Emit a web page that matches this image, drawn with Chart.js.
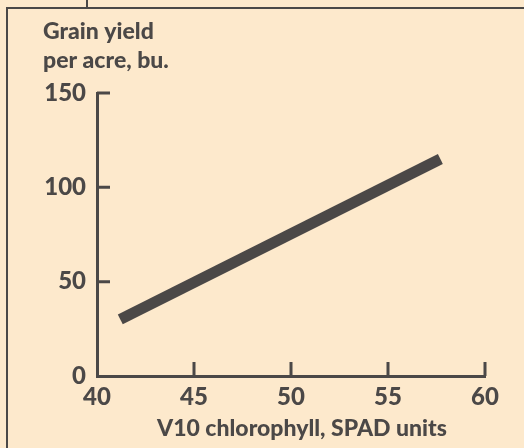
<!DOCTYPE html>
<html>
<head>
<meta charset="utf-8">
<script src="https://cdn.jsdelivr.net/npm/chart.js@4"></script>
<style>
  html, body { margin: 0; padding: 0; background: #fde9cc; }
  #wrap { width: 524px; height: 448px; position: relative; }
</style>
</head>
<body>
<div id="wrap"><canvas id="chart"></canvas></div>
<script>
// Data
const chlorophyll = [41.2, 57.7];     // V10 chlorophyll, SPAD units
const grainYield = [30, 115];         // bu. per acre
const xTicks = [40, 45, 50, 55, 60];
const yTicks = [0, 50, 100, 150];
const yTitle = ['Grain yield', 'per acre, bu.'];
const xTitle = 'V10 chlorophyll, SPAD units';

const ink = '#4b4847';
const paper = '#fde9cc';
const font = 'Lato, "DejaVu Sans", sans-serif';

// paper, frame, inward tick marks and the axis titles
const decorations = {
    id: 'decorations',
    beforeDraw(chart) {
        const ctx = chart.ctx;
        ctx.save();
        ctx.fillStyle = paper;
        ctx.fillRect(0, 0, chart.width, chart.height);
        ctx.strokeStyle = ink;
        ctx.lineWidth = 2;
        ctx.beginPath();
        ctx.moveTo(7, chart.height);
        ctx.lineTo(7, 8);
        ctx.lineTo(chart.width, 8);
        ctx.moveTo(87, 0);
        ctx.lineTo(87, 8);
        ctx.stroke();
        ctx.restore();
    },
    afterDraw(chart) {
        const ctx = chart.ctx;
        const area = chart.chartArea;
        const xs = chart.scales.x;
        const ys = chart.scales.y;
        ctx.save();
        ctx.strokeStyle = ink;
        ctx.lineWidth = 3;
        ctx.beginPath();
        xTicks.slice(1).forEach(v => {
            const px = xs.getPixelForValue(v);
            ctx.moveTo(px, area.bottom);
            ctx.lineTo(px, area.bottom - 14);
        });
        yTicks.slice(1).forEach(v => {
            const py = ys.getPixelForValue(v);
            ctx.moveTo(area.left, py);
            ctx.lineTo(area.left + 13, py);
        });
        ctx.stroke();

        ctx.fillStyle = ink;
        ctx.font = '900 23px ' + font;
        ctx.textAlign = 'left';
        ctx.textBaseline = 'alphabetic';
        ctx.fillText(yTitle[0], 43, 39);
        ctx.fillText(yTitle[1], 43, 68);
        ctx.textAlign = 'center';
        ctx.fillText(xTitle, 302, 436);
        ctx.restore();
    }
};

new Chart(document.getElementById('chart'), {
    type: 'scatter',
    data: {
        datasets: [{
            data: chlorophyll.map((x, i) => ({ x: x, y: grainYield[i] })),
            showLine: true,
            borderColor: ink,
            borderWidth: 11,
            borderCapStyle: 'butt',
            pointRadius: 0,
            fill: false
        }]
    },
    options: {
        responsive: true,
        maintainAspectRatio: false,
        animation: false,
        layout: { padding: { left: 0, top: 93, right: 39, bottom: 0 } },
        plugins: {
            legend: { display: false },
            tooltip: { enabled: false }
        },
        scales: {
            x: {
                type: 'linear',
                min: 40,
                max: 60,
                afterFit: scale => { scale.height = 72; },
                afterBuildTicks: scale => { scale.ticks = xTicks.map(v => ({ value: v })); },
                grid: { display: false, drawTicks: false },
                border: { display: true, color: ink, width: 3 },
                ticks: {
                    color: ink,
                    padding: 7,
                    font: { family: font, size: 24, weight: '900' }
                }
            },
            y: {
                type: 'linear',
                min: 0,
                max: 150,
                afterFit: scale => { scale.width = 97; },
                afterBuildTicks: scale => { scale.ticks = yTicks.map(v => ({ value: v })); },
                grid: { display: false, drawTicks: false },
                border: { display: true, color: ink, width: 3 },
                ticks: {
                    color: ink,
                    padding: 11,
                    font: { family: font, size: 24, weight: '900' }
                }
            }
        }
    },
    plugins: [decorations]
});
</script>
</body>
</html>
